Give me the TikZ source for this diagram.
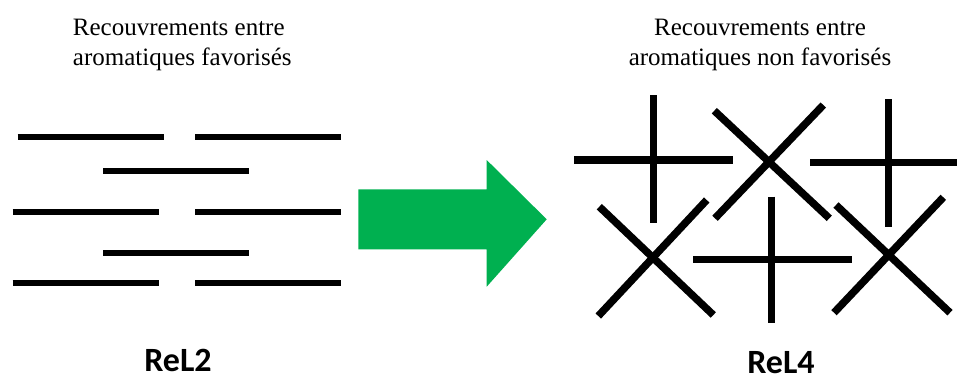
\documentclass[tikz,border=0pt]{standalone}
\usepackage{fontspec}
\setmainfont{Liberation Serif}
\newfontfamily\labfont{Carlito}
\definecolor{arrowgreen}{HTML}{00B050}
\begin{document}
\begin{tikzpicture}[x=1pt,y=-1pt,
  bar/.style={line width=6pt,line cap=butt},
  stick/.style={line width=7.5pt,line cap=butt},
  title/.style={font=\fontsize{25}{30}\selectfont,inner sep=0pt},
  lab/.style={font=\labfont\bfseries\fontsize{34}{40}\selectfont,inner sep=0pt,anchor=base}]
\useasboundingbox (0,0) rectangle (957,376);
% titles
\node[title,anchor=base west] (tl1) at (72.7,35) {Recouvrements entre};
\node[title,anchor=base west] (tl2) at (72.7,65) {aromatiques favorisés};
\node[title,anchor=base] (tr1) at (760,35) {Recouvrements entre};
\node[title,anchor=base] (tr2) at (760,65) {aromatiques non favorisés};
% stacked bars
\draw[bar] (17.7,136.7) -- (164,136.7);
\draw[bar] (195,136.7) -- (341,136.7);
\draw[bar] (103,170.7) -- (249,170.7);
\draw[bar] (12.7,212.3) -- (159,212.3);
\draw[bar] (195,212.3) -- (341,212.3);
\draw[bar] (103,252.7) -- (249,252.7);
\draw[bar] (12.7,283.3) -- (159,283.3);
\draw[bar] (195,283.3) -- (341,283.3);
% arrow
\fill[arrowgreen] (358.3,189.3) -- (486.7,189.3) -- (486.7,160) -- (546.7,219.3)
  -- (486.7,286.7) -- (486.7,249.3) -- (358.3,249.3) -- cycle;
% crosses
\draw[stick] (653.7,95) -- (653.7,223);
\draw[stick] (574,160) -- (733,160);
\draw[stick] (714.3,110.7) -- (829.3,218.3);
\draw[stick] (823.3,105) -- (715,218.3);
\draw[stick] (888.3,99.3) -- (888.3,226.7);
\draw[stick] (810,162.7) -- (956.7,162.7);
\draw[stick] (599.3,206.7) -- (713.3,315);
\draw[stick] (706.7,200) -- (598.3,316);
\draw[stick] (771.7,196.7) -- (771.7,323.3);
\draw[stick] (693.3,259.3) -- (851.7,259.3);
\draw[stick] (836,205) -- (950,312.7);
\draw[stick] (943.3,197.3) -- (834,312.7);
% labels
\node[lab] (l2) at (178,371) {ReL2};
\node[lab] (l4) at (781,373.5) {ReL4};
\end{tikzpicture}
\end{document}
